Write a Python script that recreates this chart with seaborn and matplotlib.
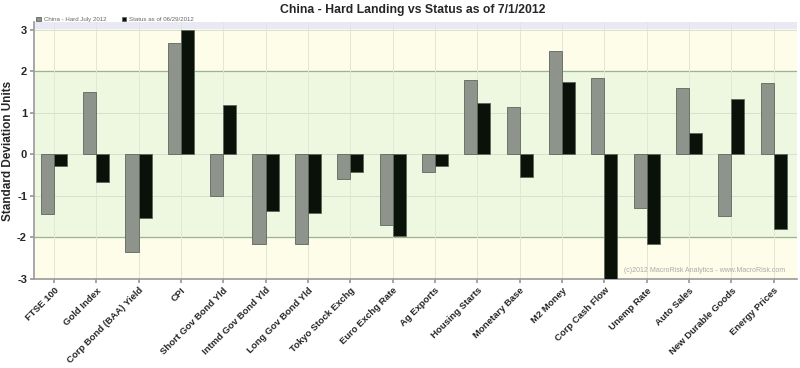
import matplotlib
matplotlib.use("Agg")
import matplotlib.pyplot as plt
import seaborn as sns
import pandas as pd

categories = ["FTSE 100", "Gold Index", "Corp Bond (BAA) Yield", "CPI", "Short Gov Bond Yld",
              "Intmd Gov Bond Yld", "Long Gov Bond Yld", "Tokyo Stock Exchg", "Euro Exchg Rate",
              "Ag Exports", "Housing Starts", "Monetary Base", "M2 Money", "Corp Cash Flow",
              "Unemp Rate", "Auto Sales", "New Durable Goods", "Energy Prices"]
hard_landing = [-1.44, 1.50, -2.35, 2.69, -0.99, -2.15, -2.15, -0.58, -1.70,
                -0.43, 1.79, 1.14, 2.50, 1.84, -1.29, 1.60, -1.49, 1.73]
status = [-0.27, -0.67, -1.54, 3.00, 1.18, -1.37, -1.41, -0.42, -1.96,
          -0.27, 1.25, -0.55, 1.74, -3.00, -2.16, 0.52, 1.34, -1.79]
series_names = ["China - Hard July 2012", "Status as of 06/29/2012"]
yticks = [3, 2, 1, 0, -1, -2, -3]

df = pd.DataFrame({
    "category": categories * 2,
    "value": hard_landing + status,
    "series": [series_names[0]] * len(categories) + [series_names[1]] * len(categories),
})

sns.set_theme(style="white")
plt.rcParams["font.family"] = ["Liberation Sans", "DejaVu Sans"]

fig = plt.figure(figsize=(8.0, 3.68), dpi=100)
ax = fig.add_axes([34 / 800, 1 - 279 / 368, 763 / 800, 257 / 368])

ax.set_facecolor("#fdfdea")
ax.axhspan(-2, 2, color="#eef7df", zorder=0)
ax.axhspan(3.04, 3.3, color="#e9e9f6", zorder=0)

sns.barplot(data=df, x="category", y="value", hue="series", order=categories,
            hue_order=series_names, palette=["#8e948b", "#081208"], width=0.62,
            edgecolor="#5f665c", linewidth=0.6, ax=ax, zorder=3, legend=True)

ax.set_xlim(-0.47, len(categories) - 0.45)
ax.set_ylim(-3, 3.19)
ax.set_yticks(yticks)
ax.set_yticklabels([str(t) for t in yticks], fontsize=8, fontweight="bold")

for y in [3, 1, 0, -1]:
    ax.axhline(y, color="#d9dfd0", lw=0.7, zorder=1)
for y in [2, -2]:
    ax.axhline(y, color="#9fb093", lw=0.9, zorder=1)
for i in range(len(categories)):
    ax.axvline(i, color="#e2e6d8", lw=0.7, zorder=1)

ax.set_xticks(range(len(categories)))
ax.set_xticklabels(categories, rotation=45, ha="right", rotation_mode="anchor",
                   fontsize=6.8, fontweight="bold")
ax.tick_params(axis="x", length=3, pad=2, color="#999999", bottom=True)
ax.tick_params(axis="y", length=3, pad=2, color="#999999", left=True)
ax.set_xlabel("")
ax.set_ylabel("Standard Deviation Units", fontsize=8.5, fontweight="bold", labelpad=2)

for s in ["top", "right"]:
    ax.spines[s].set_visible(False)
for s in ["left", "bottom"]:
    ax.spines[s].set_color("#9a9a9a")
    ax.spines[s].set_linewidth(1.2)

leg = ax.legend(loc="upper left", ncol=2, frameon=False, fontsize=4.4,
                bbox_to_anchor=(0.0, 1.03), handlelength=0.8, handleheight=0.8,
                handletextpad=0.4, columnspacing=2.5, borderaxespad=0)
for t in leg.get_texts():
    t.set_color("#666666")

ax.text(0.985, 0.02, "(c)2012 MacroRisk Analytics - www.MacroRisk.com", transform=ax.transAxes,
        ha="right", va="bottom", fontsize=5, color="#aaaaaa")

fig.text(413 / 800, 1 - 10 / 368, "China - Hard Landing vs Status as of 7/1/2012", ha="center",
         va="center", fontsize=8.8, fontweight="bold")

fig.savefig("out.png", dpi=100)
